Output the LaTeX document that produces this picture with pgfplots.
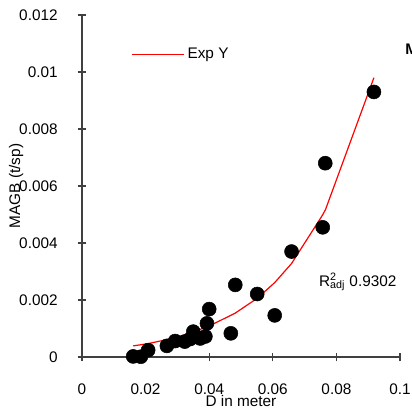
\documentclass[border=0pt]{standalone}
\usepackage{fontspec}
\setmainfont{Liberation Sans}
\usepackage{pgfplots}
\pgfplotsset{compat=1.18}
\usetikzlibrary{calc}

\definecolor{axisgray}{HTML}{404040}

\begin{document}
\fontsize{11.5}{13.8}\selectfont
\begin{tikzpicture}
\begin{axis}[
    name=ax,
    at={(0,0)}, anchor=south west,
    scale only axis,
    width=238.5pt, height=256.5pt,
    xmin=0, xmax=0.1,
    ymin=0, ymax=0.012,
    scaled x ticks=false, scaled y ticks=false,
    axis x line=bottom, axis y line=left,
    axis line style={-, axisgray, line width=0.9pt},
    tick style={axisgray, line width=0.9pt},
    tick align=center,
    major tick length=6.5pt,
    xtick={0,0.02,0.04,0.06,0.08,0.1},
    xticklabels={0,0.02,0.04,0.06,0.08,0.1},
    ytick={0,0.002,0.004,0.006,0.008,0.01,0.012},
    yticklabels={0,0.002,0.004,0.006,0.008,0.01,0.012},
    xticklabel style={anchor=north, yshift=-13pt},
    yticklabel style={anchor=east, xshift=-11pt},
    xlabel={D in meter},
    ylabel={MAGB (t/sp)},
    xlabel style={at={(axis description cs:0.5,-0.0963)}, anchor=north},
    ylabel style={at={(axis description cs:-0.168,0.5)}, anchor=south, rotate=0},
    clip=false,
    legend style={draw=none, fill=none, at={(axis description cs:0.143,0.884)}, anchor=west},
    legend image code/.code={\draw[#1] (0pt,0pt) -- (39pt,0pt);},
]
\addplot[only marks, mark=*, mark size=5.25pt, mark options={fill=black, draw=black}, forget plot]
coordinates {
(0.0161,0.00002) (0.0185,0.00001) (0.0208,0.00024) (0.0267,0.00039)
(0.0293,0.00056) (0.0323,0.00054) (0.0340,0.00063) (0.0350,0.00089)
(0.0372,0.00065) (0.0388,0.00072) (0.0393,0.00118) (0.0400,0.00168)
(0.0468,0.00083) (0.0482,0.00253) (0.0551,0.00221) (0.0606,0.00146)
(0.0659,0.00370) (0.0757,0.00455) (0.0765,0.00680) (0.0918,0.00930)
};
\addplot[color=red, line width=0.9pt, no marks]
coordinates {
(0.0161,0.00039) (0.0185,0.00043) (0.0208,0.00047) (0.0267,0.00061)
(0.0293,0.00068) (0.0323,0.00078) (0.0340,0.00084) (0.0350,0.00088)
(0.0372,0.00097) (0.0388,0.00104) (0.0393,0.00106) (0.0400,0.00109)
(0.0468,0.00146) (0.0482,0.00154) (0.0551,0.00206) (0.0606,0.00261)
(0.0659,0.00328) (0.0757,0.00499) (0.0766,0.00518) (0.0918,0.00980)
};
\addlegendentry{Exp Y}
\node[anchor=base west, inner sep=0pt] at (axis cs:0.0745,0.00249)
  {R\rlap{\textsuperscript{2}}\textsubscript{adj} 0.9302};
\node[anchor=base west, inner sep=0pt, font=\bfseries] at (axis cs:0.1016,0.0106) {M};
\end{axis}
\pgfresetboundingbox
\path[use as bounding box] ($(ax.south west)+(-61.5pt,-39.75pt)$) rectangle ($(ax.south west)+(247.5pt,267.75pt)$);
\end{tikzpicture}
\end{document}
